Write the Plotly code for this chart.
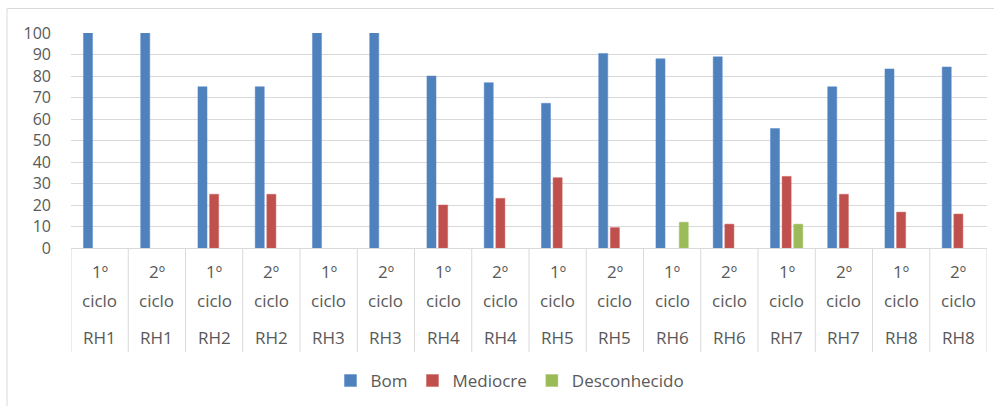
import plotly.graph_objects as go

# Category levels
ciclos = ["1º ciclo", "2º ciclo"] * 8
regioes = ["RH1", "RH1", "RH2", "RH2", "RH3", "RH3", "RH4", "RH4",
           "RH5", "RH5", "RH6", "RH6", "RH7", "RH7", "RH8", "RH8"]

# Series values (%)
bom = [100, 100, 75, 75, 100, 100, 80, 76.9, 67.3, 90.5, 88, 88.9, 55.6, 75, 83.3, 84.2]
mediocre = [None, None, 25, 25, None, None, 20, 23.1, 32.7, 9.5, None, 11.1, 33.3, 25, 16.7, 15.8]
desconhecido = [None, None, None, None, None, None, None, None, None, None, 12, None, 11.1, None, None, None]

y_ticks = list(range(0, 101, 10))

FONT = "Open Sans"
TXT = "#595959"
GRID = "#D9D9D9"

W, H = 994, 406
M_L, M_R, M_T, M_B = 71, 7, 33, 158
plot_h = H - M_T - M_B


def py(pix):
    """Pixel row -> paper y coordinate."""
    return (H - M_B - pix) / plot_h


x_keys = [f"{c} {r}" for c, r in zip(ciclos, regioes)]

fig = go.Figure()
fig.add_bar(name="Bom", x=x_keys, y=bom, marker=dict(color="#4F81BD", line=dict(color="#5B8ACB", width=0.5)))
fig.add_bar(name="Mediocre", x=x_keys, y=mediocre, marker=dict(color="#C0504D", line=dict(color="#CC6360", width=0.5)))
fig.add_bar(name="Desconhecido", x=x_keys, y=desconhecido, marker=dict(color="#9BBB59", line=dict(color="#A8C56B", width=0.5)))

# Category labels: two-line cycle label and region label
annotations = []
for i, (c, r) in enumerate(zip(ciclos, regioes)):
    n, word = c.split(" ")
    for txt, pix in ((n, 271), (word, 300), (r, 337)):
        annotations.append(dict(x=i, xref="x", y=py(pix), yref="paper", text=txt,
                                showarrow=False, xanchor="center", yanchor="middle",
                                font=dict(family=FONT, size=17, color=TXT)))

# Category divider lines below the axis
shapes = []
for i in range(len(x_keys) + 1):
    shapes.append(dict(type="line", xref="x", yref="paper", x0=i - 0.5, x1=i - 0.5,
                       y0=0, y1=py(352), line=dict(color=GRID, width=1)))

# Outer chart border
shapes.append(dict(type="rect", xref="paper", yref="paper",
                   x0=(7 - M_L) / (W - M_L - M_R), x1=1.2, y0=py(420), y1=py(8.5),
                   line=dict(color=GRID, width=1), fillcolor="rgba(0,0,0,0)"))

fig.update_layout(
    width=W, height=H,
    margin=dict(l=M_L, r=M_R, t=M_T, b=M_B),
    paper_bgcolor="white", plot_bgcolor="white",
    barmode="group", bargap=0.39, bargroupgap=0.22,
    font=dict(family=FONT, color=TXT),
    showlegend=True,
    legend=dict(orientation="h", x=(510 - M_L) / (W - M_L - M_R), xanchor="center",
                y=py(381), yanchor="middle", font=dict(family=FONT, size=17, color=TXT),
                itemwidth=30, traceorder="normal"),
    annotations=annotations,
    shapes=shapes,
    xaxis=dict(type="category", showticklabels=False, ticks="", showgrid=False,
               showline=True, linecolor=GRID, linewidth=1, range=[-0.5, len(x_keys) - 0.5]),
    yaxis=dict(range=[0, 100], tickvals=y_ticks, showgrid=True, gridcolor=GRID, gridwidth=1,
               zeroline=False, showline=False, ticks="", ticklabelstandoff=19,
               tickfont=dict(family=FONT, size=16, color=TXT)),
)

fig.write_html("out.html")
